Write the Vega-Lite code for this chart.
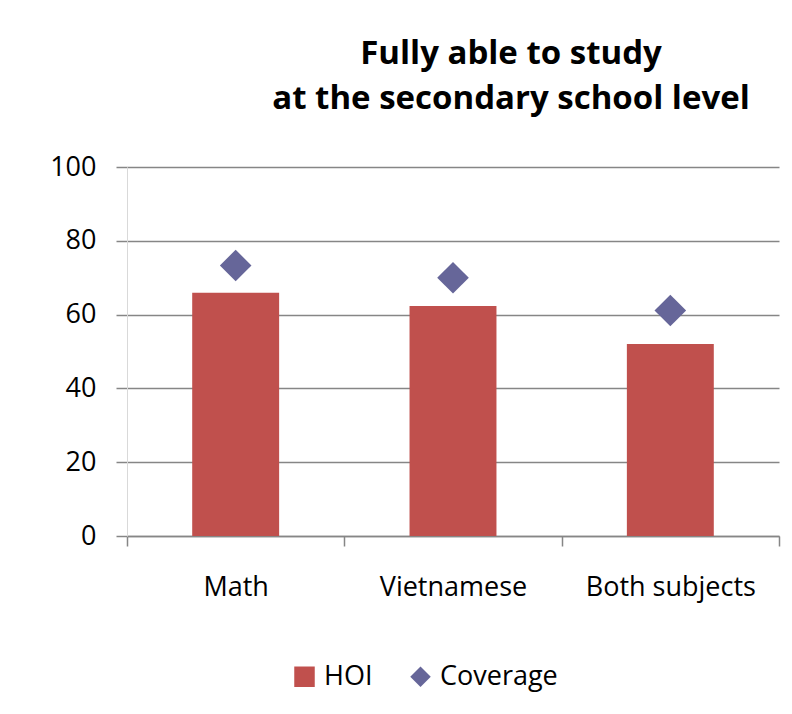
{
  "$schema": "https://vega.github.io/schema/vega-lite/v6.json",
  "autosize": {"type": "none"},
  "width": 652,
  "height": 369,
  "padding": {"left": 127, "top": 167, "right": 13, "bottom": 178},
  "background": "white",
  "title": {
    "text": ["Fully able to study\u00a0\u00a0\u00a0", "at the secondary school level"],
    "font": "Open Sans",
    "fontSize": 33,
    "fontWeight": "bold",
    "color": "#000000",
    "anchor": "middle",
    "dx": 58,
    "lineHeight": 45,
    "baseline": "bottom",
    "offset": 4
  },
  "data": {
    "values": [
      {"subject": "Math", "series": "HOI", "value": 65.9},
      {"subject": "Vietnamese", "series": "HOI", "value": 62.3},
      {"subject": "Both subjects", "series": "HOI", "value": 52.0},
      {"subject": "Math", "series": "Coverage", "value": 73.3},
      {"subject": "Vietnamese", "series": "Coverage", "value": 70.0},
      {"subject": "Both subjects", "series": "Coverage", "value": 61.1}
    ]
  },
  "encoding": {
    "x": {
      "field": "subject",
      "type": "nominal",
      "sort": ["Math", "Vietnamese", "Both subjects"],
      "scale": {"paddingInner": 0, "paddingOuter": 0},
      "axis": {
        "title": null,
        "labelAngle": 0,
        "labelFont": "Open Sans",
        "labelFontSize": 27,
        "labelColor": "#000000",
        "labelPadding": 28,
        "domainColor": "#868686",
        "domainWidth": 1.5,
        "tickColor": "#868686",
        "tickWidth": 1.5,
        "tickSize": 10,
        "tickBand": "extent",
        "grid": false
      }
    },
    "y": {
      "field": "value",
      "type": "quantitative",
      "scale": {"domain": [0, 100], "nice": false},
      "axis": {
        "title": null,
        "values": [0, 20, 40, 60, 80, 100],
        "labelFont": "Open Sans",
        "labelFontSize": 27,
        "labelColor": "#000000",
        "labelPadding": 20,
        "domainColor": "#d9d9d9",
        "tickColor": "#868686",
        "tickWidth": 1.5,
        "tickSize": 11,
        "grid": true,
        "gridColor": "#868686",
        "gridWidth": 1.5
      }
    },
    "color": {
      "field": "series",
      "type": "nominal",
      "scale": {"domain": ["HOI", "Coverage"], "range": ["#C0504D", "#666699"]},
      "legend": {
        "title": null,
        "orient": "none",
        "direction": "horizontal",
        "legendX": 164,
        "legendY": 496,
        "padding": 0,
        "labelFont": "Open Sans",
        "labelFontSize": 27,
        "labelColor": "#000000",
        "labelOffset": 6,
        "columnPadding": 34,
        "symbolSize": 420,
        "symbolStrokeWidth": 0
      }
    }
  },
  "layer": [
    {
      "transform": [{"filter": "datum.series === 'HOI'"}],
      "mark": {"type": "bar", "width": {"band": 0.4}}
    },
    {
      "transform": [{"filter": "datum.series === 'Coverage'"}],
      "mark": {"type": "point", "filled": true, "opacity": 1, "size": 1000},
      "encoding": {
        "shape": {
          "field": "series",
          "type": "nominal",
          "scale": {"domain": ["HOI", "Coverage"], "range": ["square", "diamond"]},
          "legend": null
        }
      }
    }
  ],
  "config": {"view": {"stroke": null}}
}
